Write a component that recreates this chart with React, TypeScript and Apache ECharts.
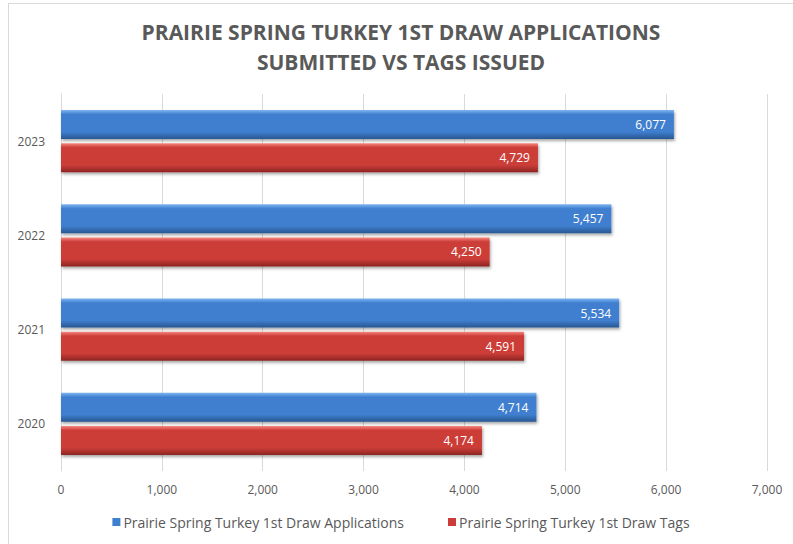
import React, { useEffect, useRef } from "react";
import * as echarts from "echarts";

const titleLines = ["PRAIRIE SPRING TURKEY 1ST DRAW APPLICATIONS", "SUBMITTED VS TAGS ISSUED"];
const years = ["2020", "2021", "2022", "2023"];
const applications = [4714, 5534, 5457, 6077];
const tags = [4174, 4591, 4250, 4729];
const seriesNames = ["Prairie Spring Turkey 1st Draw Applications", "Prairie Spring Turkey 1st Draw Tags"];
const xTicks = { min: 0, max: 7000, interval: 1000 };

const grad = (top: string, mid: string, bottom: string) =>
  new echarts.graphic.LinearGradient(0, 0, 0, 1, [
    { offset: 0, color: top },
    { offset: 0.15, color: mid },
    { offset: 0.75, color: mid },
    { offset: 1, color: bottom },
  ]);

export default function App() {
  const ref = useRef<HTMLDivElement>(null);
  useEffect(() => {
    if (!ref.current) return;
    const chart = echarts.init(ref.current, undefined, { renderer: "svg" });
    const font = "Open Sans, Noto Sans, sans-serif";
    const blue = grad("#7db4f0", "#3f7fcf", "#285690");
    const red = grad("#f7887f", "#cc3d39", "#8e2522");
    const label = {
      show: true,
      position: "insideRight" as const,
      distance: 8,
      color: "#ffffff",
      fontFamily: font,
      fontSize: 12,
      formatter: (p: any) => Number(p.value).toLocaleString("en-US"),
    };
    const shadow = { shadowColor: "rgba(0,0,0,0.35)", shadowBlur: 3, shadowOffsetY: 2, shadowOffsetX: 1 };
    chart.setOption({
      animation: false,
      title: {
        text: titleLines.join("\n"),
        left: "center",
        top: 8,
        textStyle: {
          fontFamily: font,
          fontWeight: "bold",
          fontSize: 21,
          lineHeight: 30,
          color: "#595959",
        },
      },
      legend: {
        data: [
          { name: seriesNames[0], itemStyle: { color: "#3f7fcf" } },
          { name: seriesNames[1], itemStyle: { color: "#cc3d39" } },
        ],
        top: 506,
        left: "center",
        icon: "rect",
        itemWidth: 8,
        itemHeight: 8,
        itemGap: 44,
        textStyle: { fontFamily: font, fontSize: 14, color: "#595959", padding: [0, 0, 0, -2] },
      },
      grid: { left: 52, right: 26, top: 90, bottom: 73, containLabel: false },
      xAxis: {
        type: "value",
        min: xTicks.min,
        max: xTicks.max,
        interval: xTicks.interval,
        axisLine: { show: false },
        axisTick: { show: false },
        splitLine: { show: true, lineStyle: { color: "#d9d9d9", width: 1 } },
        axisLabel: {
          margin: 12,
          fontFamily: font,
          fontSize: 12,
          color: "#595959",
          formatter: (v: number) => v.toLocaleString("en-US"),
        },
      },
      yAxis: {
        type: "category",
        data: years,
        axisLine: { show: true, lineStyle: { color: "#d9d9d9" } },
        axisTick: { show: false },
        axisLabel: { margin: 16, fontFamily: font, fontSize: 12, color: "#595959" },
      },
      series: [
        {
          name: seriesNames[0],
          type: "bar",
          data: applications,
          barWidth: 29,
          barGap: "14%",
          barCategoryGap: "34%",
          itemStyle: { color: blue, ...shadow },
          label,
        },
        {
          name: seriesNames[1],
          type: "bar",
          data: tags,
          barWidth: 29,
          barGap: "14%",
          barCategoryGap: "34%",
          itemStyle: { color: red, ...shadow },
          label,
        },
      ],
    });
    return () => chart.dispose();
  }, []);
  return (
    <div
      style={{
        position: "absolute",
        left: 8,
        top: 3,
        width: 785,
        height: 541,
        boxSizing: "border-box",
        borderTop: "1px solid #d9d9d9",
        borderLeft: "1px solid #d9d9d9",
        background: "#fff",
      }}
    >
      <div ref={ref} style={{ width: 784, height: 540 }} />
    </div>
  );
}
